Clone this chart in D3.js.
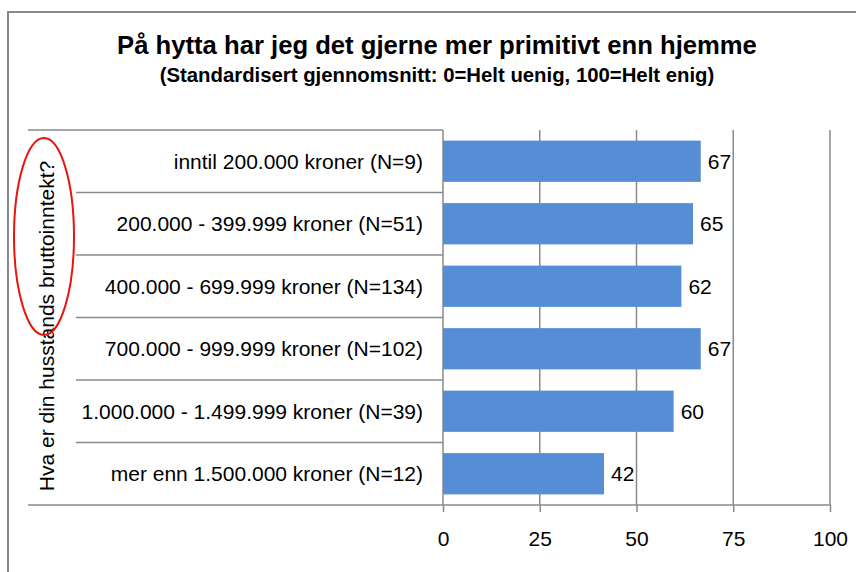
<!DOCTYPE html>
<html>
<head>
<meta charset="utf-8">
<script src="https://cdn.jsdelivr.net/npm/d3@7"></script>
<style>
  html, body { margin: 0; padding: 0; background: #fff; }
  svg { display: block; font-family: "Liberation Sans", Arial, sans-serif; }
</style>
</head>
<body>
<svg id="chart" width="856" height="572"></svg>
<script>
const titleText = "På hytta har jeg det gjerne mer primitivt enn hjemme";
const subtitleText = "(Standardisert gjennomsnitt: 0=Helt uenig, 100=Helt enig)";
const axisTitle = "Hva er din husstands bruttoinntekt?";
const categories = [
  "inntil 200.000 kroner (N=9)",
  "200.000 - 399.999 kroner (N=51)",
  "400.000 - 699.999 kroner (N=134)",
  "700.000 - 999.999 kroner (N=102)",
  "1.000.000 - 1.499.999 kroner (N=39)",
  "mer enn 1.500.000 kroner (N=12)"
];
const values = [66.6, 64.6, 61.6, 66.6, 59.6, 41.6];
const xTicks = [0, 25, 50, 75, 100];

const svg = d3.select("#chart");
const gray = "#8a8a8a";
const barColor = "#568ed6";

// outer chart border
svg.append("rect").attr("x", 8).attr("y", 12).attr("width", 900).attr("height", 620)
  .attr("fill", "#fff").attr("stroke", gray).attr("stroke-width", 2);

function fitWidth(sel, w) {
  const fs = parseFloat(sel.attr("font-size"));
  const cur = sel.node().getComputedTextLength();
  sel.attr("font-size", (fs * w / cur).toFixed(2));
}

const title = svg.append("text").attr("x", 437).attr("y", 45)
  .attr("text-anchor", "middle").attr("dominant-baseline", "central")
  .attr("font-weight", "bold").attr("font-size", 25).attr("fill", "#000")
  .text(titleText);
fitWidth(title, 640);

const sub = svg.append("text").attr("x", 437).attr("y", 75)
  .attr("text-anchor", "middle").attr("dominant-baseline", "central")
  .attr("font-weight", "bold").attr("font-size", 18).attr("fill", "#000")
  .text(subtitleText);
fitWidth(sub, 555);

const x = d3.scaleLinear().domain([0, 100]).range([443, 830]);
const y = d3.scaleBand().domain(categories).range([130, 505])
  .paddingInner(0.34).paddingOuter(0.17);
const step = y.step();

// vertical gridlines
svg.append("g").selectAll("line").data(xTicks.filter(d => d > 0)).join("line")
  .attr("x1", d => x(d)).attr("x2", d => x(d))
  .attr("y1", 130).attr("y2", 505)
  .attr("stroke", gray).attr("stroke-width", 1.5);

// category separators (table-like)
const bounds = d3.range(categories.length + 1).map(i => 130 + i * step);
svg.append("g").selectAll("line").data(bounds).join("line")
  .attr("x1", (d, i) => (i === 0 || i === categories.length) ? 28 : 76)
  .attr("x2", (d, i) => i === categories.length ? 830 : 443)
  .attr("y1", d => d).attr("y2", d => d)
  .attr("stroke", gray).attr("stroke-width", 1.5);

// category axis vertical line
svg.append("line").attr("x1", x(0)).attr("x2", x(0)).attr("y1", 130).attr("y2", 505)
  .attr("stroke", gray).attr("stroke-width", 1.5);

// bars
svg.append("g").selectAll("rect").data(values).join("rect")
  .attr("x", x(0))
  .attr("y", (d, i) => y(categories[i]))
  .attr("width", d => x(d) - x(0))
  .attr("height", y.bandwidth())
  .attr("fill", barColor);

// value labels
const fmt = d3.format(".0f");
svg.append("g").selectAll("text").data(values).join("text")
  .attr("x", d => x(d) + 7)
  .attr("y", (d, i) => y(categories[i]) + y.bandwidth() / 2)
  .attr("dominant-baseline", "central")
  .attr("font-size", 21).attr("fill", "#000")
  .text(d => fmt(d));

// left axis labels
const yAxis = svg.append("g").attr("transform", `translate(${x(0)},0)`)
  .call(d3.axisLeft(y).tickSize(0).tickPadding(20));
yAxis.select(".domain").remove();
yAxis.selectAll("text").attr("font-size", 21).attr("font-family", "Liberation Sans, Arial, sans-serif")
  .attr("fill", "#000").attr("dy", "0.35em");

// bottom axis
const xAxis = svg.append("g").attr("transform", "translate(0,505)")
  .call(d3.axisBottom(x).tickValues(xTicks).tickSize(7).tickSizeOuter(0));
xAxis.select(".domain").remove();
xAxis.selectAll("line").attr("stroke", gray).attr("stroke-width", 1.5);
xAxis.selectAll("text").attr("font-size", 21).attr("font-family", "Liberation Sans, Arial, sans-serif")
  .attr("fill", "#000").attr("y", 34).attr("dy", "0.35em");

// axis title (rotated)
svg.append("text")
  .attr("transform", "translate(46,326) rotate(-90)")
  .attr("text-anchor", "middle").attr("dominant-baseline", "central")
  .attr("font-size", 21).attr("fill", "#000")
  .text(axisTitle);

// red ellipse highlight
svg.append("ellipse").attr("cx", 44).attr("cy", 236.5).attr("rx", 30).attr("ry", 98.5)
  .attr("fill", "none").attr("stroke", "#e8150e").attr("stroke-width", 2);
</script>
</body>
</html>
